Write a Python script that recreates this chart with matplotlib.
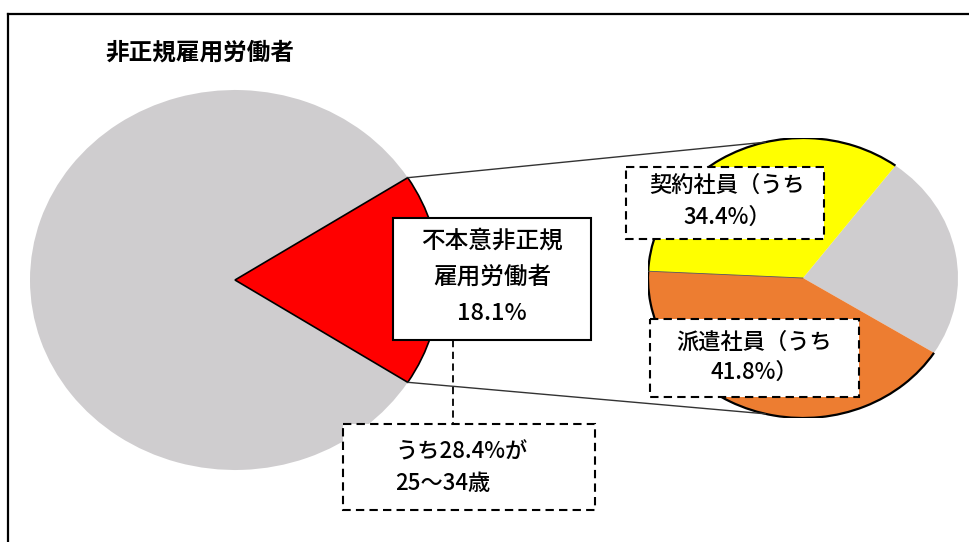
import numpy as np
import matplotlib
matplotlib.use('Agg')
import matplotlib.pyplot as plt
from matplotlib.patches import Rectangle, Arc, ConnectionPatch

plt.rcParams['font.family'] = ['Noto Sans CJK JP', 'DejaVu Sans']

W, H = 969, 542

# データ
title = '非正規雇用労働者'
main_values = [18.1, 81.9]            # 不本意非正規 / その他
sub_values = [23.8, 34.4, 41.8]       # その他 / 契約社員 / 派遣社員
main_note = ['不本意非正規', '雇用労働者', '18.1%']
contract_note = ['契約社員（うち', '34.4%）']
dispatch_note = ['派遣社員（うち', '41.8%）']
age_note = ['うち28.4%が', '25～34歳']

GRAY = '#CFCDCF'
DASH = (0, (4, 2.5))

fig = plt.figure(figsize=(W / 100, H / 100), dpi=100)


def pie_axes(cx, cy, rx, ry):
    ax = fig.add_axes([(cx - rx) / W, (H - cy - ry) / H, 2 * rx / W, 2 * ry / H])
    return ax


# 左の円
ax_l = pie_axes(235, 280, 205, 190)
wl, _ = ax_l.pie(main_values, colors=['#FF0000', GRAY],
                 startangle=-main_values[0] * 1.8, counterclock=True,
                 wedgeprops=dict(linewidth=0))
red = wl[0]
red.set_edgecolor('black')
red.set_linewidth(1.2)
red.set_zorder(3)

# 右の円
ax_r = pie_axes(803, 278, 155, 140)
wr, _ = ax_r.pie(sub_values, colors=[GRAY, '#FFFF00', '#ED7D31'],
                 startangle=-32.3, counterclock=True,
                 wedgeprops=dict(linewidth=0))
ax_r.add_patch(Arc((0, 0), 2, 2, theta1=wr[1].theta1, theta2=wr[2].theta2,
                   color='black', lw=1.6, zorder=4))
t = np.deg2rad(wr[1].theta2)
ax_r.plot([0, np.cos(t)], [0, np.sin(t)], color='#555555', lw=0.6, zorder=4)

for ax in (ax_l, ax_r):
    ax.set_aspect('auto')
    ax.set_xlim(-1, 1)
    ax.set_ylim(-1, 1)
    ax.set_axis_off()

# 接続線
for th_a, th_b in ((red.theta2, 104), (red.theta1, -104)):
    a, b = np.deg2rad(th_a), np.deg2rad(th_b)
    con = ConnectionPatch(xyA=(np.cos(a), np.sin(a)), coordsA=ax_l.transData,
                          xyB=(np.cos(b), np.sin(b)), coordsB=ax_r.transData,
                          color='#333333', lw=1.0, zorder=1)
    fig.add_artist(con)

# 注記レイヤー
ov = fig.add_axes([0, 0, 1, 1], zorder=3)
ov.set_xlim(0, W)
ov.set_ylim(H, 0)
ov.set_axis_off()
ov.patch.set_visible(False)

# 枠線
ov.plot([8, W], [14, 14], color='black', lw=1.6, clip_on=False)
ov.plot([8, 8], [14, H], color='black', lw=1.6, clip_on=False)

ov.text(105, 53, title, ha='left', va='center', fontsize=17, fontweight='bold')

# 不本意非正規の箱
ov.add_patch(Rectangle((393, 218), 198, 122, fc='white', ec='black', lw=1.5))
for i, s in enumerate(main_note):
    ov.text(492, 241 + 36 * i, s, ha='center', va='center', fontsize=17,
            fontweight='medium')

ov.plot([453, 453], [340, 424], color='black', lw=1.3, ls=DASH)

# 点線の箱
ov.add_patch(Rectangle((626, 167), 198, 72, fc='white', ec='black', lw=1.5, ls=DASH))
for i, s in enumerate(contract_note):
    ov.text(727, 185 + 32 * i, s, ha='center', va='center', fontsize=16,
            fontweight='medium')

ov.add_patch(Rectangle((650, 319), 209, 78, fc='white', ec='black', lw=1.5, ls=DASH))
for i, s in enumerate(dispatch_note):
    ov.text(754, 342 + 30 * i, s, ha='center', va='center', fontsize=16,
            fontweight='medium')

ov.add_patch(Rectangle((343, 424), 252, 86, fc='white', ec='black', lw=1.5, ls=DASH))
for i, s in enumerate(age_note):
    ov.text(395, 452 + 31 * i, s, ha='left', va='center', fontsize=16,
            fontweight='medium')

fig.savefig('out.png', dpi=100)
